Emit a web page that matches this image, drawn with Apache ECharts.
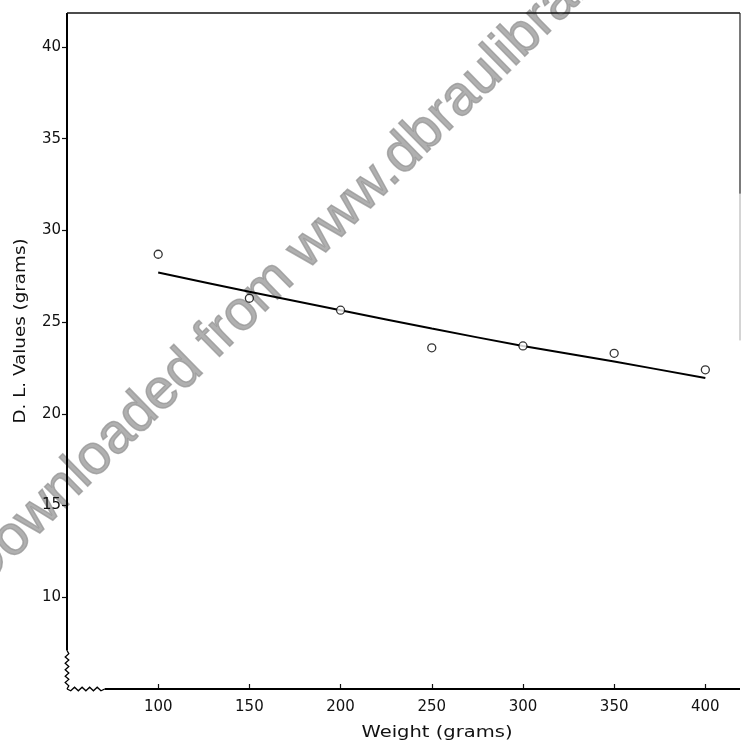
<!DOCTYPE html>
<html>
<head>
<meta charset="utf-8">
<script src="https://cdn.jsdelivr.net/npm/echarts@6/dist/echarts.min.js"></script>
<style>
  html, body { margin: 0; padding: 0; background: #fff; }
  #chart { width: 742px; height: 746px; }
</style>
</head>
<body>
<div id="chart"></div>
<script>
// values
const weights = [100, 150, 200, 250, 300, 350, 400];
const dlValues = [28.7, 26.3, 25.65, 23.6, 23.7, 23.3, 22.4];
const fitValues = [27.7, 26.65, 25.65, 24.65, 23.7, 22.85, 21.95];
const xTickLabels = ['100', '150', '200', '250', '300', '350', '400'];
const yTickLabels = ['10', '15', '20', '25', '30', '35', '40'];

const X_MIN = 50, X_MAX = 419, Y_MIN = 5, Y_MAX = 41.85;
const font = '"DejaVu Sans", sans-serif';

const chart = echarts.init(document.getElementById('chart'));

const option = {
  backgroundColor: '#fff',
  animation: false,
  grid: { left: 67, right: 2, top: 13, bottom: 57 },
  xAxis: {
    type: 'value',
    min: X_MIN, max: X_MAX, interval: 50,
    axisLine: { show: false },
    splitLine: { show: false },
    axisTick: { inside: true, length: 5, lineStyle: { color: '#111', width: 1.2 } },
    axisLabel: {
      fontFamily: font, fontSize: 15, color: '#111', margin: 11,
      showMinLabel: false, showMaxLabel: false,
      formatter: v => (xTickLabels.includes(String(v)) ? String(v) : '')
    }
  },
  yAxis: {
    type: 'value',
    min: Y_MIN, max: Y_MAX, interval: 5,
    axisLine: { show: false },
    splitLine: { show: false },
    axisTick: { length: 5, lineStyle: { color: '#111', width: 1.2 } },
    axisLabel: {
      fontFamily: font, fontSize: 15, color: '#111', margin: 6,
      showMinLabel: false, showMaxLabel: false,
      formatter: v => (yTickLabels.includes(String(v)) ? String(v) : '')
    }
  },
  series: [
    {
      type: 'line',
      data: weights.map((w, i) => [w, fitValues[i]]),
      symbol: 'none',
      smooth: 0.3,
      lineStyle: { color: '#000', width: 2 },
      z: 3
    },
    {
      type: 'scatter',
      data: weights.map((w, i) => [w, dlValues[i]]),
      symbol: 'circle',
      symbolSize: 8,
      itemStyle: { color: '#fff', borderColor: '#000', borderWidth: 1.3 },
      z: 4
    }
  ]
};

chart.setOption(option);

// axis frame with the broken (zigzag) corner, drawn from the axis scales
function px(x, y) { return chart.convertToPixel({ gridIndex: 0 }, [x, y]); }

function zigzag(a, b, n, amp) {
  const pts = [];
  const dx = b[0] - a[0], dy = b[1] - a[1];
  const len = Math.hypot(dx, dy);
  const nx = -dy / len, ny = dx / len;
  for (let i = 0; i <= n; i++) {
    const t = i / n;
    const off = (i === 0 || i === n) ? 0 : (i % 2 ? amp : -amp);
    pts.push([a[0] + dx * t + nx * off, a[1] + dy * t + ny * off]);
  }
  return pts;
}

const corner = px(X_MIN, Y_MIN);
const leftBreakTop = px(X_MIN, 7.1);
const bottomBreakEnd = px(70.7, Y_MIN);
const topLeft = px(X_MIN, Y_MAX);
const topRight = px(X_MAX, Y_MAX);
const bottomRight = px(X_MAX, Y_MIN);
const rightDark = px(X_MAX, 32);
const rightFade = px(X_MAX, 24);

chart.setOption({
  graphic: [
    {
      type: 'text', x: -28, y: 578, rotation: 44.5 * Math.PI / 180, z: 0,
      style: {
        text: 'Downloaded from www.dbraulibrary.org.in',
        font: '56px "Liberation Sans", Arial, sans-serif',
        fill: 'rgba(150,150,150,0.75)',
        stroke: 'rgba(150,150,150,0.75)', lineWidth: 1.5,
        textVerticalAlign: 'middle',
        shadowBlur: 3, shadowColor: 'rgba(150,150,150,0.7)'
      }
    },
    {
      type: 'text', x: 437, y: 733, scaleX: 1.22,
      style: { text: 'Weight (grams)', font: '16px ' + font, fill: '#111', textAlign: 'center', textVerticalAlign: 'middle' }
    },
    {
      type: 'text', x: 21, y: 331, rotation: Math.PI / 2, scaleX: 1.22,
      style: { text: 'D. L. Values (grams)', font: '15px ' + font, fill: '#111', textAlign: 'center', textVerticalAlign: 'middle' }
    },
    { type: 'polyline', shape: { points: [leftBreakTop, topLeft] }, style: { stroke: '#000', lineWidth: 2 }, z: 5 },
    { type: 'polyline', shape: { points: zigzag(corner, leftBreakTop, 12, 1.8) }, style: { stroke: '#000', lineWidth: 1.3, fill: null }, z: 5 },
    { type: 'polyline', shape: { points: zigzag(corner, bottomBreakEnd, 10, 1.8) }, style: { stroke: '#000', lineWidth: 1.3, fill: null }, z: 5 },
    { type: 'polyline', shape: { points: [bottomBreakEnd, bottomRight] }, style: { stroke: '#000', lineWidth: 2 }, z: 5 },
    { type: 'polyline', shape: { points: [topLeft, topRight] }, style: { stroke: '#111', lineWidth: 1.3 }, z: 5 },
    { type: 'polyline', shape: { points: [topRight, rightDark] }, style: { stroke: '#222', lineWidth: 1.2 }, z: 5 },
    { type: 'polyline', shape: { points: [rightDark, rightFade] }, style: { stroke: '#aaa', lineWidth: 1 }, z: 5 }
  ]
});
</script>
</body>
</html>
